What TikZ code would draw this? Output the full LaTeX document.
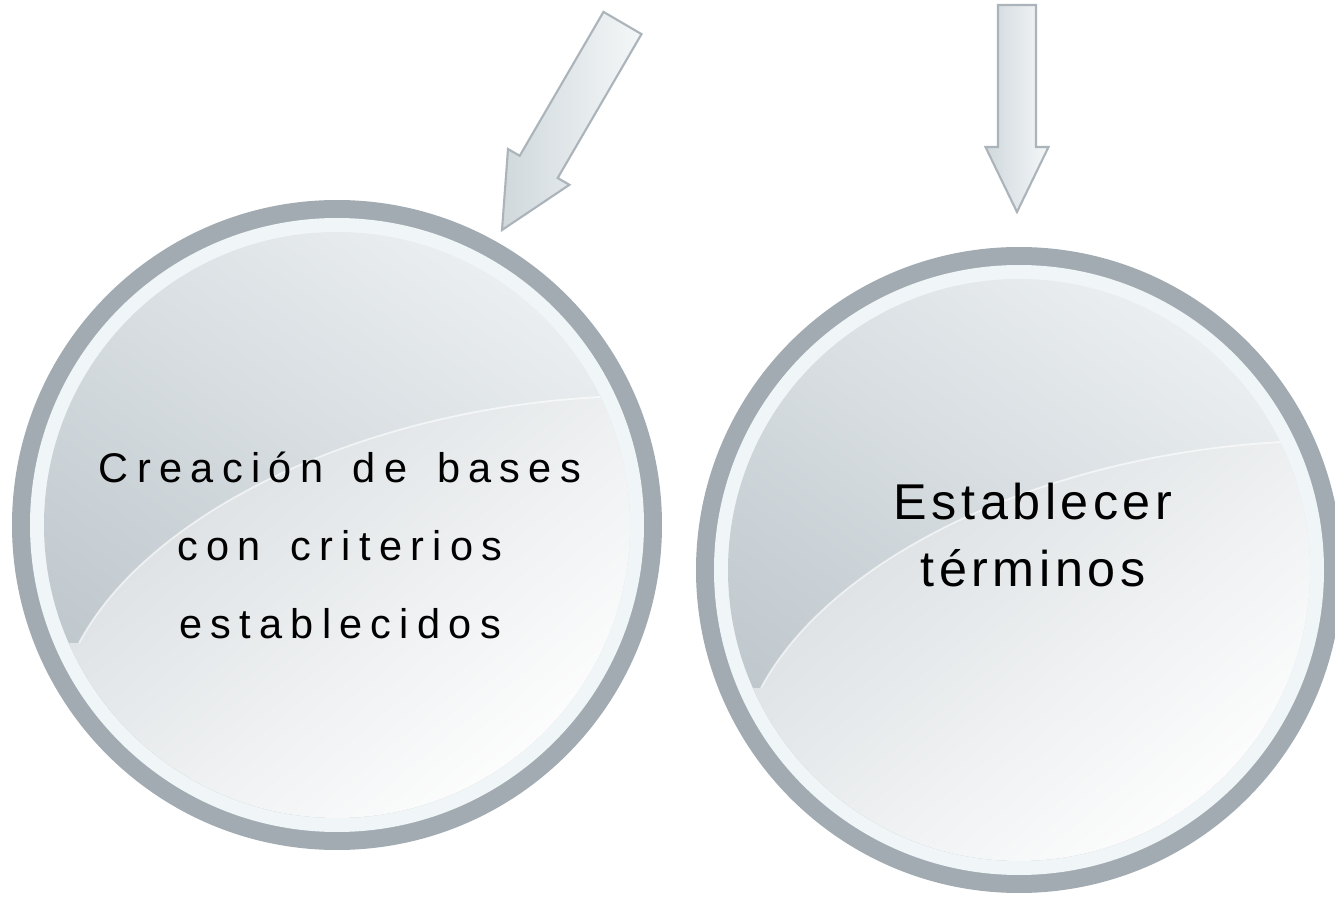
\documentclass[tikz,border=0pt]{standalone}
\usepackage{fontspec}
\setmainfont{Liberation Sans}
\newfontfamily\wideleft[LetterSpace=20,WordSpace=1.5]{Liberation Sans}
\newfontfamily\wideright[LetterSpace=9,WordSpace=1.5]{Liberation Sans}
\usetikzlibrary{positioning}
\definecolor{ringgray}{RGB}{161,171,177}
\definecolor{ringwhite}{RGB}{240,245,247}
\definecolor{glasstop}{RGB}{234,238,240}
\definecolor{glassdark}{RGB}{188,197,203}
\definecolor{glossgray}{RGB}{216,221,224}
\definecolor{glosswhite}{RGB}{254,254,254}
\definecolor{arrowline}{RGB}{170,180,186}
\definecolor{arrowdark}{RGB}{208,216,220}
\definecolor{arrowlight}{RGB}{244,247,248}

\begin{document}
\begin{tikzpicture}[x=0.01cm,y=-0.01cm]
\tikzstyle{glassarrow}=[draw=arrowline, line width=0.6pt, left color=arrowdark, right color=arrowlight]
\tikzstyle{glossline}=[draw=white, opacity=0.6, line width=0.5pt]
\useasboundingbox (0,0) rectangle (1335,897);
\clip (0,0) rectangle (1335,897);
\fill [white] (0,0) rectangle (1335,897);
% left ball
\fill [ringgray] (337,525) circle (325);
\fill [ringwhite] (337,525) circle (307);
\shade [top color=glasstop, bottom color=glassdark, shading angle=-35] (337,525) circle (293);
\begin{scope}
\clip (337,525) circle (293);
\shade [top color=glossgray, bottom color=glosswhite, shading angle=40] (79,643) .. controls (147,515) and (357,410) .. (600,397) -- (640,395) -- (640,820) -- (40,820) -- (40,643) -- cycle;
\draw [glossline] (79,643) .. controls (147,515) and (357,410) .. (600,397);
\end{scope}
% right ball
\fill [ringgray] (1019,570) circle (323);
\fill [ringwhite] (1019,570) circle (305);
\shade [top color=glasstop, bottom color=glassdark, shading angle=-35] (1019,570) circle (291);
\begin{scope}
\clip (1019,570) circle (291);
\shade [top color=glossgray, bottom color=glosswhite, shading angle=40] (761,688) .. controls (829,560) and (1039,455) .. (1282,442) -- (1320,440) -- (1320,865) -- (720,865) -- (720,688) -- cycle;
\draw [glossline] (761,688) .. controls (829,560) and (1039,455) .. (1282,442);
\end{scope}
% labels
\node [font=\wideleft\fontsize{11.8}{22.2}\selectfont, align=center] (bases) at (340,545) {Creación de bases\\con criterios\\establecidos};
\node [font=\wideright\fontsize{14.3}{18.8}\selectfont, align=center] (terminos) at (1033,535) {Establecer\\términos};
% arrows
\draw [glassarrow] (603.5,11.9) -- (641.5,34.1) -- (557.7,178) -- (569.4,184.8) -- (502,230) -- (508,149) -- (519.7,155.8) -- cycle;
\draw [glassarrow] (998,5) -- (1036,5) -- (1036,147) -- (1048.5,147) -- (1017,212) -- (985.5,147) -- (998,147) -- cycle;
\end{tikzpicture}
\end{document}
